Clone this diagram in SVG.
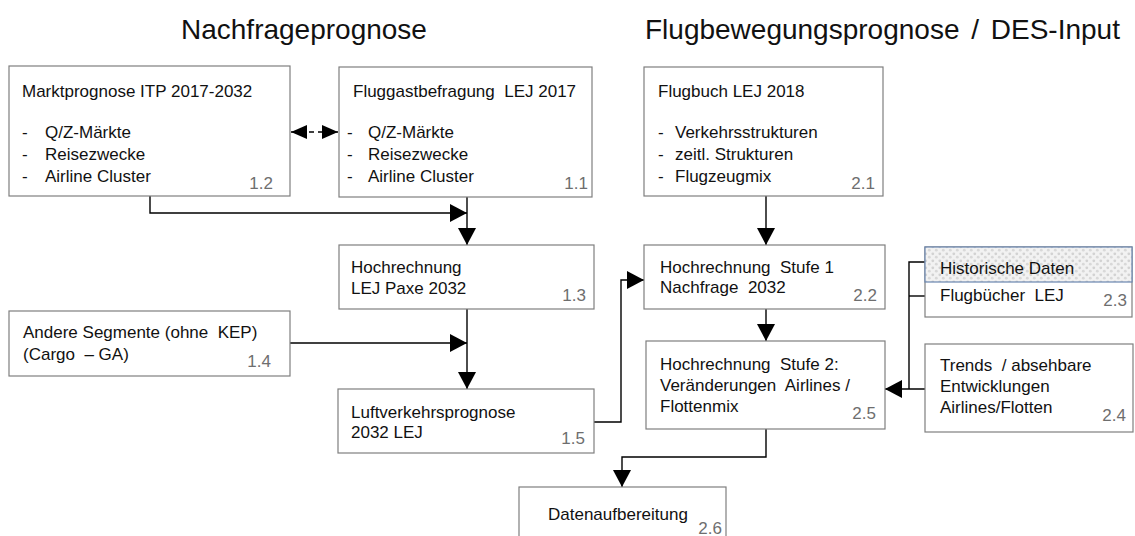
<svg xmlns="http://www.w3.org/2000/svg" width="1135" height="536" viewBox="0 0 1135 536">
  <style>
    .box { fill: #ffffff; stroke: #7f7f7f; stroke-width: 1.2; }
    .t { font-family: "Liberation Sans", Arial, sans-serif; font-size: 17px; fill: #111111; white-space: pre; }
    .num { font-family: "Liberation Sans", Arial, sans-serif; font-size: 17px; fill: #6e6e6e; text-anchor: end; }
    .title { font-family: "Liberation Sans", Arial, sans-serif; font-size: 28px; fill: #111111; white-space: pre; }
    .con { fill: none; stroke: #000000; stroke-width: 1.4; }
  </style>
  <defs>
    <marker id="arrow" viewBox="0 0 17 18" refX="17" refY="9" markerWidth="17" markerHeight="18" markerUnits="userSpaceOnUse" orient="auto">
      <path d="M0,0 L17,9 L0,18 Z" fill="#000000"/>
    </marker>
    <marker id="arrowSm" viewBox="0 0 16 14" refX="16" refY="7" markerWidth="16" markerHeight="14" markerUnits="userSpaceOnUse" orient="auto-start-reverse">
      <path d="M0,0 L16,7 L0,14 Z" fill="#000000"/>
    </marker>
    <pattern id="dots" width="7" height="7" patternUnits="userSpaceOnUse">
      <rect width="7" height="7" fill="#f2f2f2"/>
      <circle cx="1.8" cy="1.8" r="1.4" fill="#d2d2d2"/>
      <circle cx="5.3" cy="5.2" r="1.4" fill="#d8d8d8"/>
    </pattern>
  </defs>

  <!-- section headings -->
  <text class="title" x="181" y="39">Nachfrageprognose</text>
  <text class="title" x="645" y="39" word-spacing="4">Flugbewegungsprognose / DES-Input</text>

  <!-- connectors -->
  <g id="connectors">
    <path class="con" d="M150,196 V213 H467" marker-end="url(#arrow)"/>
    <path class="con" d="M467,197 V245" marker-end="url(#arrow)"/>
    <path class="con" d="M467,309 V389" marker-end="url(#arrow)"/>
    <path class="con" d="M290,343 H467" marker-end="url(#arrow)"/>
    <path class="con" d="M594,422 H621 V280 H644" marker-end="url(#arrow)"/>
    <path class="con" d="M766,196 V245" marker-end="url(#arrow)"/>
    <path class="con" d="M766,309 V341" marker-end="url(#arrow)"/>
    <path class="con" d="M925,262 H909 V389"/>
    <path class="con" d="M909,296 H925"/>
    <path class="con" d="M925,389 H885" marker-end="url(#arrow)"/>
    <path class="con" d="M766,429 V457 H622 V487" marker-end="url(#arrow)"/>
    <path class="con" d="M291,132 H338" stroke-dasharray="5,4" marker-start="url(#arrowSm)" marker-end="url(#arrowSm)"/>
  </g>

  <!-- 1.2 -->
  <g id="n12">
    <rect class="box" x="9" y="66" width="281" height="130"/>
    <text class="t" x="22" y="97">Marktprognose ITP 2017-2032</text>
    <text class="t" x="22" y="138">-</text><text class="t" x="45" y="138">Q/Z-Märkte</text>
    <text class="t" x="22" y="160">-</text><text class="t" x="45" y="160">Reisezwecke</text>
    <text class="t" x="22" y="182">-</text><text class="t" x="45" y="182">Airline Cluster</text>
    <text class="num" x="273" y="189">1.2</text>
  </g>

  <!-- 1.1 -->
  <g id="n11">
    <rect class="box" x="339" y="67" width="253" height="130"/>
    <text class="t" x="353" y="97">Fluggastbefragung  LEJ 2017</text>
    <text class="t" x="347" y="138">-</text><text class="t" x="368" y="138">Q/Z-Märkte</text>
    <text class="t" x="347" y="160">-</text><text class="t" x="368" y="160">Reisezwecke</text>
    <text class="t" x="347" y="182">-</text><text class="t" x="368" y="182">Airline Cluster</text>
    <text class="num" x="588" y="189">1.1</text>
  </g>

  <!-- 2.1 -->
  <g id="n21">
    <rect class="box" x="644" y="67" width="239" height="129"/>
    <text class="t" x="658" y="97">Flugbuch LEJ 2018</text>
    <text class="t" x="658" y="138">-</text><text class="t" x="675" y="138">Verkehrsstrukturen</text>
    <text class="t" x="658" y="160">-</text><text class="t" x="675" y="160">zeitl. Strukturen</text>
    <text class="t" x="658" y="182">-</text><text class="t" x="675" y="182">Flugzeugmix</text>
    <text class="num" x="875" y="189">2.1</text>
  </g>

  <!-- 1.3 -->
  <g id="n13">
    <rect class="box" x="339" y="245" width="255" height="64"/>
    <text class="t" x="351" y="273">Hochrechnung</text>
    <text class="t" x="351" y="294">LEJ Paxe 2032</text>
    <text class="num" x="586" y="301">1.3</text>
  </g>

  <!-- 1.4 -->
  <g id="n14">
    <rect class="box" x="9" y="311" width="281" height="65"/>
    <text class="t" x="23" y="338">Andere Segmente (ohne  KEP)</text>
    <text class="t" x="23" y="360">(Cargo  – GA)</text>
    <text class="num" x="271" y="367">1.4</text>
  </g>

  <!-- 1.5 -->
  <g id="n15">
    <rect class="box" x="338" y="389" width="256" height="64"/>
    <text class="t" x="351" y="418">Luftverkehrsprognose</text>
    <text class="t" x="351" y="438">2032 LEJ</text>
    <text class="num" x="585" y="444">1.5</text>
  </g>

  <!-- 2.2 -->
  <g id="n22">
    <rect class="box" x="644" y="245" width="241" height="64"/>
    <text class="t" x="660" y="273">Hochrechnung  Stufe 1</text>
    <text class="t" x="660" y="293">Nachfrage  2032</text>
    <text class="num" x="877" y="301">2.2</text>
  </g>

  <!-- 2.3 -->
  <g id="n23">
    <rect class="box" x="925" y="247" width="207" height="70"/>
    <rect x="925" y="247" width="207" height="35" fill="url(#dots)" stroke="#6a86b0" stroke-width="1.2"/>
    <text class="t" x="940" y="274">Historische Daten</text>
    <text class="t" x="940" y="301">Flugbücher  LEJ</text>
    <text class="num" x="1127" y="306">2.3</text>
  </g>

  <!-- 2.5 -->
  <g id="n25">
    <rect class="box" x="646" y="341" width="239" height="88"/>
    <text class="t" x="660" y="370">Hochrechnung  Stufe 2:</text>
    <text class="t" x="660" y="391">Veränderungen  Airlines /</text>
    <text class="t" x="660" y="412">Flottenmix</text>
    <text class="num" x="876" y="419">2.5</text>
  </g>

  <!-- 2.4 -->
  <g id="n24">
    <rect class="box" x="925" y="344" width="208" height="88"/>
    <text class="t" x="940" y="371">Trends  / absehbare</text>
    <text class="t" x="940" y="392">Entwicklungen</text>
    <text class="t" x="940" y="413">Airlines/Flotten</text>
    <text class="num" x="1126" y="421">2.4</text>
  </g>

  <!-- 2.6 -->
  <g id="n26">
    <rect class="box" x="519" y="487" width="207" height="60"/>
    <text class="t" x="548" y="520">Datenaufbereitung</text>
    <text class="num" x="722" y="534">2.6</text>
  </g>
</svg>
